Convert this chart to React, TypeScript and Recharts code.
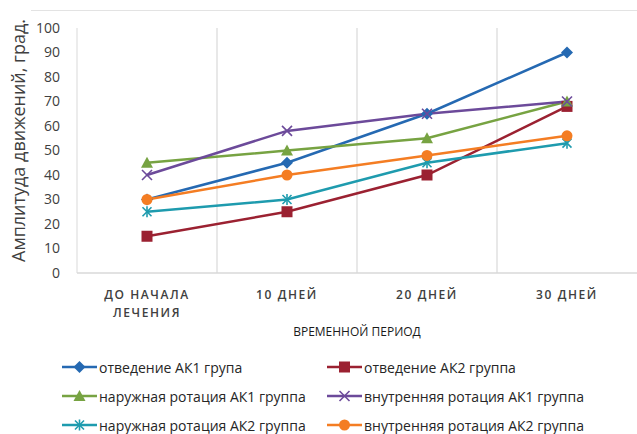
import React from "react";
import { LineChart, Line, XAxis, YAxis, CartesianGrid, Legend } from "recharts";

const categories = ["ДО НАЧАЛА\nЛЕЧЕНИЯ", "10 ДНЕЙ", "20 ДНЕЙ", "30 ДНЕЙ"];
const abductionAK1 = [30, 45, 65, 90];
const abductionAK2 = [15, 25, 40, 68];
const extRotationAK1 = [45, 50, 55, 70];
const intRotationAK1 = [40, 58, 65, 70];
const extRotationAK2 = [25, 30, 45, 53];
const intRotationAK2 = [30, 40, 48, 56];
const yTicks = [0, 10, 20, 30, 40, 50, 60, 70, 80, 90, 100];

const FONT = "'Open Sans', 'DejaVu Sans', sans-serif";

type MarkerType = "diamond" | "square" | "triangle" | "x" | "star" | "circle";

const series: { key: string; name: string; color: string; marker: MarkerType; values: number[] }[] = [
  { key: "a1", name: "отведение АК1 група", color: "#2569B2", marker: "diamond", values: abductionAK1 },
  { key: "a2", name: "отведение АК2 группа", color: "#9B2131", marker: "square", values: abductionAK2 },
  { key: "e1", name: "наружная ротация АК1 группа", color: "#77A342", marker: "triangle", values: extRotationAK1 },
  { key: "i1", name: "внутренняя ротация АК1 группа", color: "#6C4A9A", marker: "x", values: intRotationAK1 },
  { key: "e2", name: "наружная ротация АК2 группа", color: "#1E9BAE", marker: "star", values: extRotationAK2 },
  { key: "i2", name: "внутренняя ротация АК2 группа", color: "#F47D23", marker: "circle", values: intRotationAK2 },
];

const data = categories.map((c, i) => {
  const row: Record<string, string | number> = { cat: c };
  series.forEach((s) => {
    row[s.key] = s.values[i];
  });
  return row;
});

function Marker({ type, cx, cy, color }: { type: MarkerType; cx: number; cy: number; color: string }) {
  switch (type) {
    case "diamond":
      return <polygon points={`${cx},${cy - 6} ${cx + 6},${cy} ${cx},${cy + 6} ${cx - 6},${cy}`} fill={color} />;
    case "square":
      return <rect x={cx - 5.5} y={cy - 5.5} width={11} height={11} fill={color} />;
    case "triangle":
      return <polygon points={`${cx},${cy - 6} ${cx + 6},${cy + 5} ${cx - 6},${cy + 5}`} fill={color} />;
    case "x":
      return (
        <g stroke={color} strokeWidth={1.6}>
          <line x1={cx - 5} y1={cy - 5} x2={cx + 5} y2={cy + 5} />
          <line x1={cx - 5} y1={cy + 5} x2={cx + 5} y2={cy - 5} />
        </g>
      );
    case "star":
      return (
        <g stroke={color} strokeWidth={1.6}>
          <line x1={cx - 4.5} y1={cy - 4.5} x2={cx + 4.5} y2={cy + 4.5} />
          <line x1={cx - 4.5} y1={cy + 4.5} x2={cx + 4.5} y2={cy - 4.5} />
          <line x1={cx} y1={cy - 5.5} x2={cx} y2={cy + 5.5} />
        </g>
      );
    case "circle":
    default:
      return <circle cx={cx} cy={cy} r={5.5} fill={color} />;
  }
}

const XTick = (props: any) => {
  const { x, y, payload } = props;
  const lines = String(payload.value).split("\n");
  return (
    <text
      x={x}
      y={y}
      textAnchor="middle"
      fontFamily={FONT}
      fontSize={12}
      fontWeight={600}
      letterSpacing={1.6}
      fill="#404040"
    >
      {lines.map((l, i) => (
        <tspan key={i} x={x} dy={18}>
          {l}
        </tspan>
      ))}
    </text>
  );
};

const LegendContent = () => (
  <div
    style={{
      display: "grid",
      gridTemplateColumns: "265px 300px",
      gridAutoRows: "29px",
      paddingLeft: 62,
      fontFamily: FONT,
      fontSize: 14,
      color: "#262626",
      width: 637,
      boxSizing: "border-box",
    }}
  >
    {series.map((s) => (
      <div key={s.key} style={{ display: "flex", alignItems: "center", whiteSpace: "nowrap" }}>
        <svg width={35} height={14} style={{ flex: "none" }}>
          <line x1={0} y1={7} x2={35} y2={7} stroke={s.color} strokeWidth={2.5} />
          <Marker type={s.marker} cx={17.5} cy={7} color={s.color} />
        </svg>
        <span style={{ marginLeft: 2 }}>{s.name}</span>
      </div>
    ))}
  </div>
);

const bandBoundaries = ({ offset }: any) => {
  const n = categories.length;
  const out: number[] = [];
  for (let i = 1; i < n; i++) out.push(offset.left + (offset.width * i) / n);
  return out;
};

export default function App() {
  return (
    <div style={{ position: "absolute", left: 0, top: 0, width: 637, height: 434, background: "#fff" }}>
      <div style={{ position: "absolute", left: 31, top: 10, width: 606, height: 1, background: "#e3e3e3" }} />
      <LineChart width={637} height={434} data={data} margin={{ top: 28, right: 0, bottom: 95, left: 0 }}>
        <CartesianGrid
          horizontal={false}
          vertical
          stroke="#d9d9d9"
          strokeWidth={1.2}
          verticalCoordinatesGenerator={bandBoundaries}
        />
        <XAxis
          dataKey="cat"
          scale="band"
          height={66}
          interval={0}
          tick={<XTick />}
          tickLine={false}
          axisLine={{ stroke: "#d9d9d9", strokeWidth: 1.5 }}
          label={{
            value: "ВРЕМЕННОЙ ПЕРИОД",
            position: "insideBottom",
            offset: 3,
            fontFamily: FONT,
            fontSize: 12,
            fill: "#1a1a1a",
          }}
        />
        <YAxis
          width={77}
          domain={[0, 100]}
          ticks={yTicks}
          interval={0}
          tickLine={false}
          tickSize={0}
          tickMargin={17}
          axisLine={{ stroke: "#d9d9d9" }}
          tick={{ fontFamily: FONT, fontSize: 14, fill: "#404040" }}
          label={{
            content: (p: any) => {
              const vb = p.viewBox || { x: 0, y: 28, width: 77, height: 245 };
              const cx = 18;
              const cy = vb.y + vb.height / 2 - 10;
              return (
                <text
                  x={cx}
                  y={cy}
                  transform={`rotate(-90 ${cx} ${cy})`}
                  textAnchor="middle"
                  dominantBaseline="central"
                  fontFamily={FONT}
                  fontSize={18}
                  fill="#404040"
                >
                  Амплитуда движений, град.
                </text>
              );
            },
          }}
        />
        {series.map((s) => (
          <Line
            key={s.key}
            dataKey={s.key}
            name={s.name}
            stroke={s.color}
            strokeWidth={2.5}
            isAnimationActive={false}
            dot={(p: any) => <Marker key={`${s.key}-${p.index}`} type={s.marker} cx={p.cx} cy={p.cy} color={s.color} />}
            activeDot={false}
          />
        ))}
        <Legend
          layout="horizontal"
          verticalAlign="middle"
          align="center"
          content={<LegendContent />}
          wrapperStyle={{ position: "absolute", left: 0, top: 352.5, width: 637 }}
        />
      </LineChart>
    </div>
  );
}
